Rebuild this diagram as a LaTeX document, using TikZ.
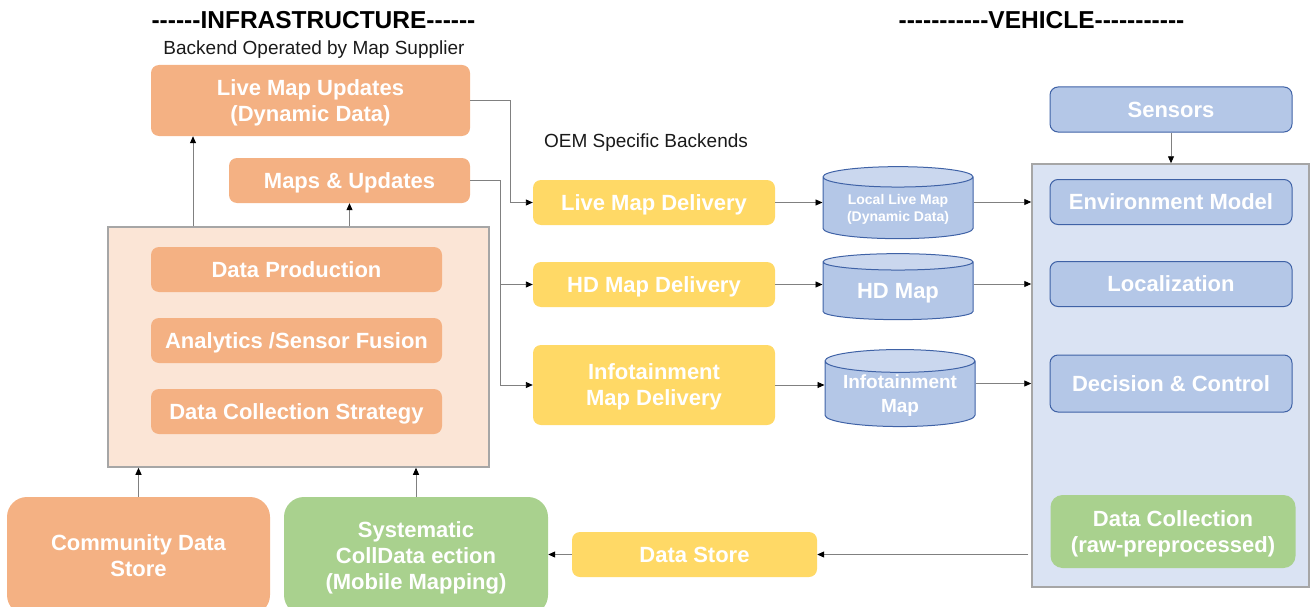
\documentclass[tikz,border=0pt]{standalone}
\usepackage{fontspec}
\setmainfont{Liberation Sans}
\usetikzlibrary{shapes.geometric,arrows.meta,calc}

\definecolor{orangebox}{HTML}{F4B183}
\definecolor{orangepale}{HTML}{FBE5D6}
\definecolor{yellowbox}{HTML}{FFD966}
\definecolor{greenbox}{HTML}{A9D18E}
\definecolor{bluebox}{HTML}{B4C7E7}
\definecolor{bluetop}{HTML}{CAD7EE}
\definecolor{blueline}{HTML}{3F62A6}
\definecolor{bluepale}{HTML}{DAE3F3}
\definecolor{framegray}{HTML}{A6A6A6}
\definecolor{wire}{HTML}{808080}
\definecolor{inkdark}{HTML}{1A1A1A}

\tikzset{
  box/.style={rounded corners=8pt, inner sep=0pt, align=center, text=white,
    text depth=0pt, font=\fontsize{22}{26}\selectfont\bfseries},
  orangebx/.style={box, fill=orangebox},
  yellowbx/.style={box, fill=yellowbox},
  greenbx/.style={box, fill=greenbox},
  bluebx/.style={box, fill=bluebox, draw=blueline, line width=1pt},
  container/.style={draw=framegray, line width=1.5pt, inner sep=0pt},
  store/.style={cylinder, shape border rotate=90, aspect=0.2, draw=blueline,
    line width=1pt, cylinder uses custom fill, cylinder body fill=bluebox,
    cylinder end fill=bluetop, inner sep=0pt, align=center, text=white,
    text depth=0pt, font=\bfseries},
  arr/.style={draw=wire, line width=0.9pt,
    -{Triangle[black, length=7pt, width=6pt]}},
  heading/.style={font=\fontsize{24.5}{28}\selectfont\bfseries, text=black},
  caption/.style={font=\fontsize{19}{22}\selectfont, text=inkdark, text depth=0pt}
}

\begin{document}
\begin{tikzpicture}[x=1pt, y=-1pt]
\clip (0,0) rectangle (1316,607);

% section headings
\node[heading] (tinfra) at (313.5,20.5) {-{}-{}-{}-{}-{}-INFRASTRUCTURE-{}-{}-{}-{}-{}-};
\node[caption] (tback) at (314,48) {Backend Operated by Map Supplier};
\node[heading] (tveh) at (1041.5,20.5) {-{}-{}-{}-{}-{}-{}-{}-{}-{}-{}-VEHICLE-{}-{}-{}-{}-{}-{}-{}-{}-{}-{}-};
\node[caption] (toem) at (646,140.5) {OEM Specific Backends};

% infrastructure side
\node[orangebx, minimum width=319pt, minimum height=71pt] (lmu) at (310.5,100.5)
  {Live Map Updates\\(Dynamic Data)};
\node[orangebx, minimum width=241pt, minimum height=45pt] (mu) at (349.5,180.5)
  {Maps \& Updates};
\node[container, fill=orangepale, minimum width=381pt, minimum height=240pt] (infra)
  at (298.5,347) {};
\node[orangebx, minimum width=291pt, minimum height=45pt] (dp) at (296.5,269.5)
  {Data Production};
\node[orangebx, minimum width=291pt, minimum height=45pt] (an) at (296.5,340.5)
  {Analytics /Sensor Fusion};
\node[orangebx, minimum width=291pt, minimum height=45pt] (dcs) at (296.5,411.5)
  {Data Collection Strategy};
\node[orangebx, rounded corners=20pt, minimum width=263pt, minimum height=118pt] (cds)
  at (138.5,556) {Community Data\\Store};
\node[greenbx, rounded corners=20pt, minimum width=264pt, minimum height=118pt] (sys)
  at (416,556) {Systematic\\CollData ection\\(Mobile Mapping)};

% OEM backends
\node[yellowbx, minimum width=242pt, minimum height=45pt] (lmd) at (654,202.5)
  {Live Map Delivery};
\node[yellowbx, minimum width=242pt, minimum height=45pt] (hdd) at (654,284.5)
  {HD Map Delivery};
\node[yellowbx, minimum width=242pt, minimum height=80pt] (ifd) at (654,385)
  {Infotainment\\Map Delivery};
\node[yellowbx, minimum width=245pt, minimum height=45pt] (ds) at (694.5,554.5)
  {Data Store};

% map stores
\node[store, minimum width=150pt, minimum height=72pt,
  font=\fontsize{14}{17}\selectfont\bfseries] (lcl) at (898,208)
  {Local Live Map\\(Dynamic Data)};
\node[store, minimum width=150pt, minimum height=66pt,
  font=\fontsize{22}{26}\selectfont\bfseries] (hdm) at (898,291) {HD Map};
\node[store, minimum width=150pt, minimum height=77pt,
  font=\fontsize{19}{24}\selectfont\bfseries] (ifm) at (900,394)
  {Infotainment\\Map};

% vehicle side
\node[bluebx, minimum width=242pt, minimum height=45pt] (sens) at (1171,109.5)
  {Sensors};
\node[container, fill=bluepale, minimum width=277pt, minimum height=423pt] (veh)
  at (1170.5,375.5) {};
\node[bluebx, minimum width=242pt, minimum height=45pt] (env) at (1171,202)
  {Environment Model};
\node[bluebx, minimum width=242pt, minimum height=45pt] (loc) at (1171,284)
  {Localization};
\node[bluebx, minimum width=242pt, minimum height=57pt] (dec) at (1171,383.5)
  {Decision \& Control};
\node[greenbx, rounded corners=12pt, minimum width=245pt, minimum height=73pt] (dcol)
  at (1173,531.5) {Data Collection\\(raw-preprocessed)};

% connectors
\coordinate (xa) at (193,0);
\coordinate (jl) at (510,0);
\coordinate (jm) at (500,0);

\draw[arr] (xa |- infra.north) -- (xa |- lmu.south);
\draw[arr] (mu.south |- infra.north) -- (mu.south);
\draw[arr] (cds.north) -- (cds.north |- infra.south);
\draw[arr] (sys.north) -- (sys.north |- infra.south);

\draw[arr] (lmu.east) -| (jl |- lmd.west) -- (lmd.west);
\draw[arr] (mu.east) -| (jm |- ifd.west) -- (ifd.west);
\draw[arr] (jm |- hdd.west) -- (hdd.west);

\draw[arr] (lmd.east) -- (lcl.west |- lmd.east);
\draw[arr] (hdd.east) -- (hdm.west |- hdd.east);
\draw[arr] (ifd.east) -- (ifm.west |- ifd.east);

\draw[arr] (lcl.east |- env.west) -- (veh.west |- env.west);
\draw[arr] (hdm.east |- loc.west) -- (veh.west |- loc.west);
\draw[arr] (ifm.east |- dec.west) -- (veh.west |- dec.west);

\draw[arr] (sens.south) -- (sens.south |- veh.north);
\draw[arr] ([xshift=-3pt]veh.west |- ds.east) -- (ds.east);
\draw[arr] (ds.west) -- (sys.east |- ds.west);
\end{tikzpicture}
\end{document}
